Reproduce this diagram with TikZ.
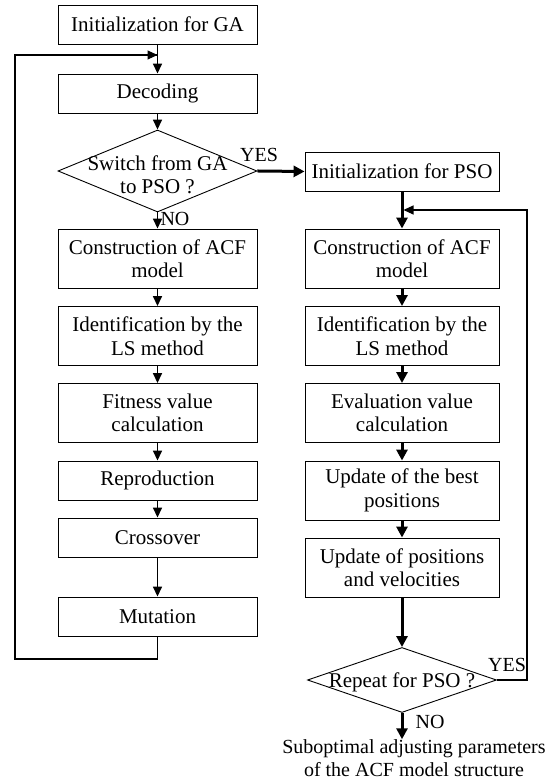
\documentclass[tikz,border=0pt]{standalone}
\usepackage{fontspec}
\setmainfont{Liberation Serif}
\usetikzlibrary{arrows.meta,shapes.geometric}
\tikzset{
  every node/.style={font=\fontsize{21pt}{23.5pt}\selectfont, align=center, inner sep=0pt},
  lbox/.style={draw, line width=0.9pt, minimum width=199pt, minimum height=39pt},
  rbox/.style={draw, line width=0.9pt, minimum width=194pt, minimum height=39pt},
  tall/.style={minimum height=59pt},
  decide/.style={draw, diamond, line width=0.9pt, inner sep=0pt},
  thinarrow/.style={line width=1.6pt, -{Triangle[length=10pt,width=9pt]}},
  thickarrow/.style={line width=3pt, -{Triangle[length=11pt,width=11pt]}},
  backline/.style={line width=1.1pt},
  backarrow/.style={line width=1.1pt, -{Triangle[length=10pt,width=9pt]}},
  lbl/.style={font=\fontsize{20pt}{22pt}\selectfont},
  result/.style={font=\fontsize{20pt}{23pt}\selectfont}
}
\begin{document}
\begin{tikzpicture}[x=1pt,y=1pt]
\useasboundingbox (0,0) rectangle (548,784);
% left column
\node[lbox] (initGA) at (157.5,759.5) {Initialization for GA};
\node[lbox] (dec) at (157.5,690.5) {Decoding};
\node[decide, minimum width=199pt, minimum height=82pt] (d1) at (157.5,613) {};
\node at (157.5,609) {Switch from GA\\to PSO ?};
\node[lbox,tall] (con1) at (157.5,525.5) {Construction of ACF\\model};
\node[lbox,tall] (id1) at (157.5,448) {Identification by the\\LS method};
\node[lbox,tall] (fit1) at (157.5,371) {Fitness value\\calculation};
\node[lbox] (rep) at (157.5,303.5) {Reproduction};
\node[lbox] (cross) at (157.5,246.5) {Crossover};
\node[lbox] (mut) at (157.5,167.5) {Mutation};
% right column
\node[rbox] (initPSO) at (402,612.5) {Initialization for PSO};
\node[rbox,tall] (con2) at (402,525.5) {Construction of ACF\\model};
\node[rbox,tall] (id2) at (402,448) {Identification by the\\LS method};
\node[rbox,tall] (ev2) at (402,371) {Evaluation value\\calculation};
\node[rbox,tall] (best) at (402,293.5) {Update of the best\\positions};
\node[rbox,tall] (vel) at (402,216.5) {Update of positions\\and velocities};
\node[decide, minimum width=189pt, minimum height=65pt] (d2) at (402,104) {};
\node at (402,102) {Repeat for PSO ?};
\node[result] (out) at (414,26) {Suboptimal adjusting parameters\\of the ACF model structure};
% labels
\node[lbl] (yes1) at (259,629) {YES};
\node[lbl] (no1) at (175,565) {NO};
\node[lbl] (yes2) at (507,119) {YES};
\node[lbl] (no2) at (430,62) {NO};
% coordinates
\coordinate (mL) at (157.5,729);
\coordinate (b1) at (157.5,125);
\coordinate (b2) at (15,125);
\coordinate (b3) at (15,729);
\coordinate (mR) at (402,574);
\coordinate (r1) at (527,104);
\coordinate (r2) at (527,574);
% left arrows
\draw[thinarrow] (initGA.south) -- (dec.north);
\draw[thinarrow] (dec.south) -- (d1.north);
\draw[thinarrow] (d1.south) -- (con1.north);
\draw[thinarrow] (con1.south) -- (id1.north);
\draw[thinarrow] (id1.south) -- (fit1.north);
\draw[thinarrow] (fit1.south) -- (rep.north);
\draw[thinarrow] (rep.south) -- (cross.north);
\draw[thinarrow] (cross.south) -- (mut.north);
\draw[backline] (mut.south) -- (b1) -- (b2) -- (b3) -- ([xshift=-1pt]mL);
\draw[backarrow] (b3) -- (mL);
% right arrows
\draw[thickarrow] (d1.east) -- (initPSO.west);
\draw[thickarrow] (initPSO.south) -- (con2.north);
\draw[thickarrow] (con2.south) -- (id2.north);
\draw[thickarrow] (id2.south) -- (ev2.north);
\draw[thickarrow] (ev2.south) -- (best.north);
\draw[thickarrow] (best.south) -- (vel.north);
\draw[thickarrow] (vel.south) -- (d2.north);
\draw[thickarrow] (d2.south) -- (d2.south |- out.north);
\draw[backarrow] (d2.east) -- (r1) -- (r2) -- ([xshift=1.5pt]mR);
\end{tikzpicture}
\end{document}
